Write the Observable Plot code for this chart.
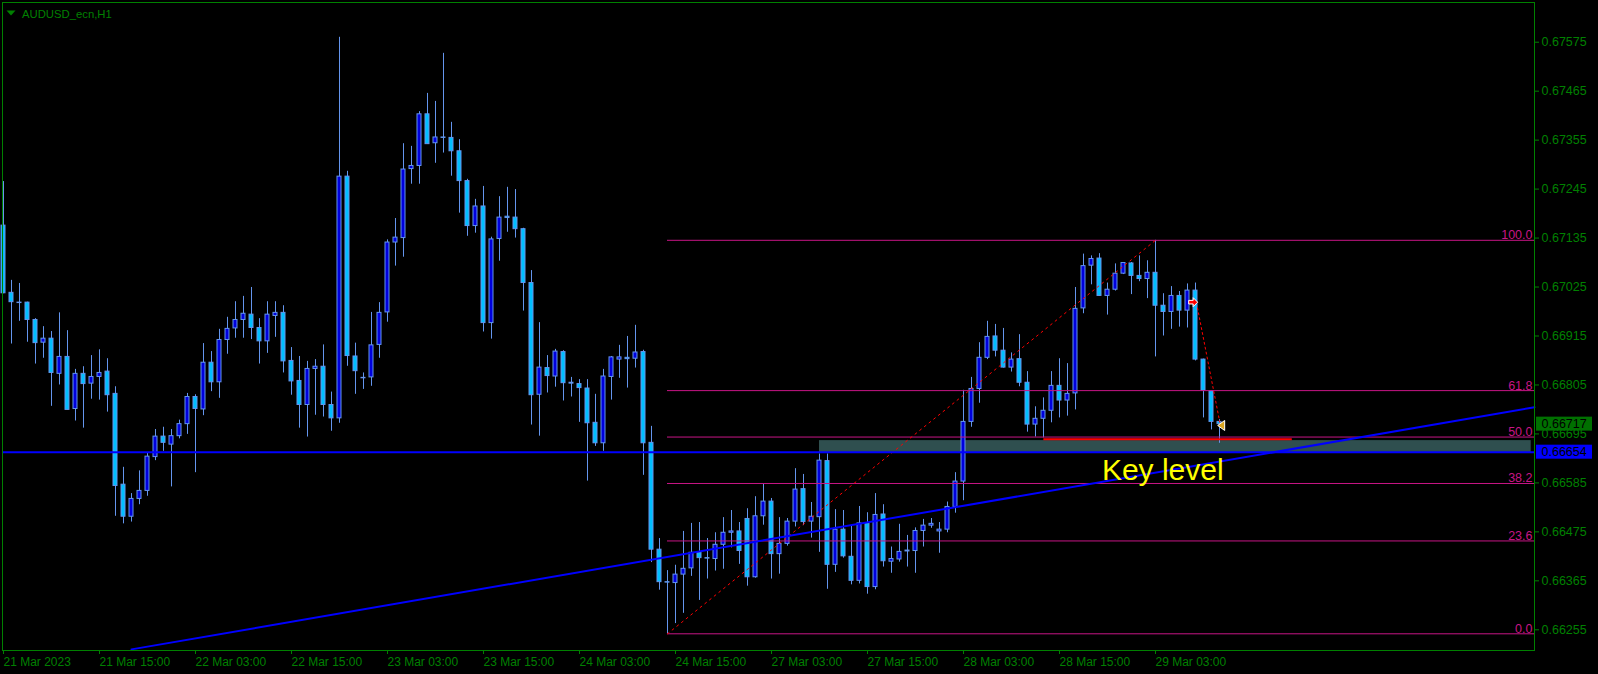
<!DOCTYPE html>
<html><head><meta charset="utf-8">
<script src="https://cdn.jsdelivr.net/npm/d3@7"></script>
<script src="https://cdn.jsdelivr.net/npm/@observablehq/plot@0.6"></script>
<style>html,body{margin:0;padding:0;background:#000;overflow:hidden}</style>
</head><body><div id="chart"></div>
<script>
// AUDUSD_ecn H1 candles, bar 0 = 21 Mar 2023 03:00
const open = [0.67163,0.67012,0.66990,0.66990,0.66951,0.66900,0.66909,0.66830,0.66868,0.66751,
0.66830,0.66808,0.66823,0.66835,0.66785,0.66581,0.66509,0.66549,0.66567,0.66643,
0.66689,0.66671,0.66690,0.66717,0.66778,0.66750,0.66855,0.66811,0.66906,0.66932,
0.66951,0.66963,0.66933,0.66903,0.66960,0.66967,0.66859,0.66814,0.66760,0.66841,
0.66846,0.66760,0.66730,0.67273,0.66869,0.66821,0.66822,0.66895,0.66968,0.67125,
0.67135,0.67290,0.67297,0.67413,0.67348,0.67361,0.67360,0.67330,0.67263,0.67162,
0.67206,0.66944,0.67133,0.67183,0.67181,0.67155,0.67034,0.66783,0.66843,0.66824,
0.66879,0.66810,0.66807,0.66797,0.66720,0.66674,0.66823,0.66862,0.66866,0.66864,
0.66879,0.66675,0.66435,0.66362,0.66360,0.66379,0.66393,0.66428,0.66416,0.66414,
0.66446,0.66473,0.66476,0.66504,0.66373,0.66510,0.66543,0.66425,0.66448,0.66498,
0.66571,0.66498,0.66508,0.66634,0.66401,0.66480,0.66419,0.66365,0.66494,0.66351,
0.66514,0.66408,0.66413,0.66431,0.66432,0.66477,0.66489,0.66476,0.66480,0.66531,
0.66588,0.66722,0.66796,0.66866,0.66914,0.66882,0.66844,0.66863,0.66810,0.66716,
0.66729,0.66747,0.66803,0.66770,0.66786,0.66977,0.67073,0.67089,0.67005,0.67019,
0.67055,0.67078,0.67050,0.67043,0.67057,0.66983,0.66969,0.67005,0.66972,0.67017,
0.66862,0.66791,0.66722];
const high = [0.67262,0.67040,0.67033,0.66991,0.66954,0.66936,0.66925,0.66967,0.66927,0.66840,
0.66846,0.66871,0.66884,0.66864,0.66801,0.66620,0.66561,0.66612,0.66651,0.66705,
0.66710,0.66705,0.66726,0.66786,0.66783,0.66898,0.66880,0.66930,0.66957,0.66992,
0.67004,0.67024,0.66954,0.66992,0.66992,0.66983,0.66889,0.66869,0.66858,0.66862,
0.66895,0.66789,0.67586,0.67285,0.66899,0.66832,0.66968,0.66990,0.67131,0.67179,
0.67347,0.67341,0.67419,0.67460,0.67442,0.67550,0.67395,0.67356,0.67267,0.67222,
0.67251,0.67137,0.67228,0.67249,0.67244,0.67157,0.67062,0.66945,0.66871,0.66885,
0.66882,0.66822,0.66817,0.66817,0.66784,0.66840,0.66869,0.66894,0.66914,0.66939,
0.66883,0.66712,0.66460,0.66388,0.66400,0.66476,0.66494,0.66496,0.66460,0.66473,
0.66507,0.66523,0.66496,0.66527,0.66554,0.66582,0.66550,0.66507,0.66505,0.66617,
0.66604,0.66541,0.66650,0.66650,0.66525,0.66523,0.66488,0.66532,0.66518,0.66561,
0.66536,0.66441,0.66492,0.66467,0.66484,0.66503,0.66505,0.66496,0.66542,0.66608,
0.66793,0.66822,0.66900,0.66948,0.66941,0.66932,0.66877,0.66918,0.66835,0.66756,
0.66776,0.66835,0.66864,0.66853,0.67024,0.67099,0.67095,0.67100,0.67034,0.67077,
0.67080,0.67080,0.67095,0.67084,0.67130,0.67010,0.67026,0.67015,0.67032,0.67034,
0.66863,0.66792,0.66727];
const low = [0.67010,0.66897,0.66948,0.66901,0.66852,0.66865,0.66757,0.66805,0.66749,0.66724,
0.66708,0.66773,0.66771,0.66744,0.66510,0.66493,0.66497,0.66536,0.66555,0.66635,
0.66656,0.66576,0.66684,0.66694,0.66608,0.66736,0.66790,0.66775,0.66874,0.66910,
0.66910,0.66907,0.66852,0.66876,0.66912,0.66832,0.66782,0.66708,0.66688,0.66737,
0.66733,0.66701,0.66719,0.66847,0.66784,0.66795,0.66802,0.66865,0.66946,0.67072,
0.67092,0.67256,0.67256,0.67346,0.67303,0.67326,0.67274,0.67191,0.67139,0.67146,
0.66924,0.66908,0.67083,0.67148,0.67135,0.66971,0.66715,0.66690,0.66787,0.66800,
0.66769,0.66778,0.66721,0.66589,0.66667,0.66656,0.66771,0.66820,0.66798,0.66843,
0.66602,0.66406,0.66344,0.66246,0.66269,0.66292,0.66375,0.66321,0.66369,0.66387,
0.66391,0.66439,0.66402,0.66353,0.66371,0.66490,0.66369,0.66380,0.66443,0.66486,
0.66489,0.66461,0.66429,0.66346,0.66384,0.66416,0.66356,0.66358,0.66335,0.66345,
0.66396,0.66382,0.66407,0.66396,0.66382,0.66441,0.66483,0.66427,0.66473,0.66517,
0.66545,0.66710,0.66764,0.66862,0.66868,0.66843,0.66834,0.66801,0.66699,0.66688,
0.66686,0.66720,0.66731,0.66735,0.66749,0.66965,0.67030,0.67004,0.66962,0.67016,
0.67053,0.67008,0.67037,0.66999,0.66868,0.66915,0.66930,0.66935,0.66933,0.66859,
0.66731,0.66704,0.66674];
const close = [0.67011,0.66991,0.66989,0.66951,0.66899,0.66909,0.66832,0.66868,0.66749,0.66830,
0.66807,0.66823,0.66832,0.66782,0.66578,0.66509,0.66549,0.66567,0.66644,0.66689,
0.66675,0.66690,0.66717,0.66778,0.66751,0.66855,0.66811,0.66906,0.66931,0.66951,
0.66965,0.66933,0.66903,0.66963,0.66967,0.66858,0.66813,0.66760,0.66841,0.66846,
0.66760,0.66730,0.67273,0.66870,0.66836,0.66820,0.66894,0.66967,0.67125,0.67136,
0.67289,0.67297,0.67413,0.67346,0.67361,0.67360,0.67330,0.67263,0.67162,0.67206,
0.66944,0.67132,0.67181,0.67180,0.67155,0.67034,0.66782,0.66844,0.66825,0.66880,
0.66809,0.66808,0.66798,0.66719,0.66674,0.66824,0.66867,0.66867,0.66863,0.66878,
0.66674,0.66435,0.66362,0.66361,0.66379,0.66392,0.66428,0.66416,0.66415,0.66446,
0.66473,0.66476,0.66432,0.66373,0.66510,0.66543,0.66425,0.66448,0.66498,0.66570,
0.66497,0.66509,0.66635,0.66401,0.66480,0.66420,0.66365,0.66494,0.66351,0.66513,
0.66409,0.66414,0.66430,0.66433,0.66477,0.66489,0.66493,0.66480,0.66531,0.66588,
0.66722,0.66796,0.66866,0.66913,0.66882,0.66844,0.66862,0.66810,0.66716,0.66729,
0.66747,0.66803,0.66770,0.66785,0.66976,0.67072,0.67088,0.67005,0.67019,0.67055,
0.67079,0.67050,0.67043,0.67057,0.66983,0.66969,0.67005,0.66972,0.67017,0.66862,
0.66792,0.66722,0.66717];

const xTickBars = [0,12,24,36,48,60,72,84,96,108,120,132,144];
const xTickLabels = ["21 Mar 2023","21 Mar 15:00","22 Mar 03:00","22 Mar 15:00","23 Mar 03:00","23 Mar 15:00",
  "24 Mar 03:00","24 Mar 15:00","27 Mar 03:00","27 Mar 15:00","28 Mar 03:00","28 Mar 15:00","29 Mar 03:00"];
const yTicks = [0.67575,0.67465,0.67355,0.67245,0.67135,0.67025,0.66915,0.66805,0.66695,0.66585,0.66475,0.66365,0.66255];

const fibLevels = [0, 23.6, 38.2, 50, 61.8, 100];
const fibLow = {i: 83, p: 0.66246};
const fibHigh = {i: 144, p: 0.67130};
const trendPts = [{i: 16.0, p: 0.66211}, {i: 191.375, p: 0.66755}];
const supportLevel = 0.66654;
const currentPrice = 0.66717;
const zone = {i1: 102, i2: 190.96, p1: 0.66651, p2: 0.66680};
const redLevel = {i1: 130.04, i2: 161.1, p: 0.66683};
const tradeLine = [{i: 149.25, p: 0.66978}, {i: 152.04, p: 0.66721}];
const tradeOpen = {i: 148.71, p: 0.66991};
const tradeClose = {i: 152.21, p: 0.66714};
const keyLabel = {i: 137.3, p: 0.66612, text: "Key level"};
const title = "AUDUSD_ecn,H1";

const xDomain = [-0.125, 191.375];
const yDomain = [0.662085, 0.676642];

const GREEN = "#008000", WICK = "#6495ED", BULL = "#0000DD", BEAR = "#00BFFF", FIB = "#C71585";

const candles = open.map((o, i) => ({i, o, h: high[i], l: low[i], c: close[i], up: close[i] > o}));
const fibData = fibLevels.map(l => ({l, p: fibLow.p + (fibHigh.p - fibLow.p) * l / 100}));
const labelMap = new Map(xTickBars.map((b, k) => [b, xTickLabels[k]]));
const priceBoxes = [{p: currentPrice, bg: "#007000"}, {p: supportLevel, bg: "#0000FF"}];

const arrowRight = {draw(ctx) {
  ctx.moveTo(-4.5, -1.8); ctx.lineTo(0, -1.8); ctx.lineTo(0, -4.5); ctx.lineTo(4.5, 0);
  ctx.lineTo(0, 4.5); ctx.lineTo(0, 1.8); ctx.lineTo(-4.5, 1.8); ctx.closePath();
}};
const triLeft = {draw(ctx) {
  ctx.moveTo(3.5, -5); ctx.lineTo(3.5, 5); ctx.lineTo(-3.5, 0); ctx.closePath();
}};
const triDown = {draw(ctx) {
  ctx.moveTo(-4.5, -2.5); ctx.lineTo(4.5, -2.5); ctx.lineTo(0, 2.5); ctx.closePath();
}};

const chart = Plot.plot({
  width: 1598, height: 674,
  marginLeft: 2, marginRight: 64, marginTop: 2, marginBottom: 24,
  style: {background: "#000", color: GREEN, fontFamily: "'Liberation Sans', Arial, sans-serif"},
  x: {type: "linear", domain: xDomain},
  y: {type: "linear", domain: yDomain},
  marks: [
    Plot.rect([zone], {x1: "i1", x2: "i2", y1: "p1", y2: "p2", fill: "#2F4F4F"}),
    Plot.ruleX(candles, {x: "i", y1: "l", y2: "h", stroke: WICK, strokeWidth: 1}),
    Plot.rect(candles, {x1: d => d.i - 0.25, x2: d => d.i + 0.25,
      y1: d => Math.min(d.o, d.c), y2: d => Math.max(d.o, d.c),
      fill: d => d.up ? BULL : BEAR, stroke: WICK, strokeWidth: 1}),
    Plot.ruleY(fibData, {y: "p", x1: fibLow.i, x2: xDomain[1], stroke: FIB, strokeWidth: 1}),
    Plot.text(fibData, {y: "p", x: xDomain[1], text: d => d.l.toFixed(1), textAnchor: "end",
      lineAnchor: "bottom", dx: -2, dy: -1, fill: FIB, fontSize: 12.5}),
    Plot.line([fibLow, fibHigh], {x: "i", y: "p", stroke: "#FF0000", strokeWidth: 1, strokeDasharray: "2,4"}),
    Plot.ruleY([supportLevel], {stroke: "#0000FF", strokeWidth: 2}),
    Plot.line(trendPts, {x: "i", y: "p", stroke: "#0000FF", strokeWidth: 2}),
    Plot.ruleY([redLevel], {y: "p", x1: "i1", x2: "i2", stroke: "#FF0000", strokeWidth: 2}),
    Plot.line(tradeLine, {x: "i", y: "p", stroke: "#FF0000", strokeWidth: 1, strokeDasharray: "2,3"}),
    Plot.dot([tradeOpen], {x: "i", y: "p", symbol: arrowRight, fill: "#FF0000", stroke: "#FFFFFF", strokeWidth: 1}),
    Plot.dot([tradeClose], {x: "i", y: "p", symbol: triLeft, fill: "#DAA520", stroke: "#FFFFFF", strokeWidth: 1}),
    Plot.text([keyLabel], {x: "i", y: "p", text: "text", fill: "#FFFF00", fontSize: 30,
      textAnchor: "start", lineAnchor: "middle"}),
    Plot.frame({stroke: GREEN}),
    Plot.axisY({anchor: "right", ticks: yTicks, tickSize: 4, tickPadding: 3,
      tickFormat: d => d.toFixed(5), fontSize: 12.5, label: null}),
    Plot.axisX({anchor: "bottom", ticks: xTickBars, tickSize: 4, tickPadding: 3,
      tickFormat: d => labelMap.get(d), textAnchor: "start", fontSize: 12, label: null}),
    Plot.rect(priceBoxes, {x1: xDomain[1], x2: xDomain[1], y1: "p", y2: "p",
      insetLeft: 2, insetRight: -58, insetTop: -7, insetBottom: -7, fill: "bg"}),
    Plot.text(priceBoxes, {x: xDomain[1], y: "p", text: d => d.p.toFixed(5), textAnchor: "start",
      dx: 7, fill: "#000000", fontSize: 12.5}),
    Plot.dot([0], {frameAnchor: "top-left", dx: 8.5, dy: 10.5, symbol: triDown, fill: GREEN}),
    Plot.text([title], {frameAnchor: "top-left", dx: 19.5, dy: 7.5, text: d => d, textAnchor: "start",
      lineAnchor: "top", fill: GREEN, fontSize: 11.3})
  ]
});
document.getElementById("chart").appendChild(chart);
</script>
</body></html>
